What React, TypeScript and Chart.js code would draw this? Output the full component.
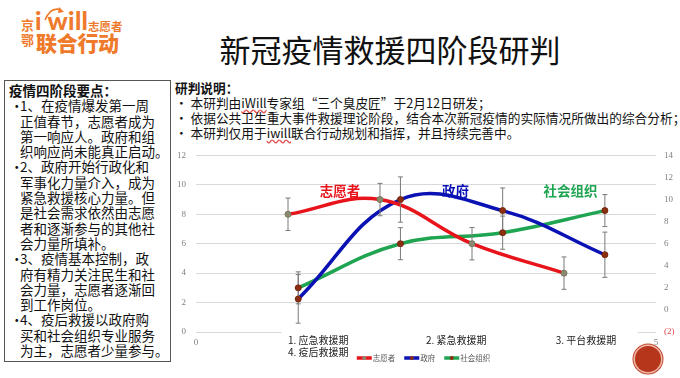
import React, { useEffect, useRef } from 'react';
import { Chart, registerables } from 'chart.js';
Chart.register(...registerables);

// ---- data ----
const stageX = [1, 2, 3, 4];
const seriesNames = ['志愿者', '政府', '社会组织'];
const volunteerValues = [8, 9, 6, 4];
const governmentValues = [1, 10, 9, 5];
const socialOrgValues = [2, 6, 7, 9];
const volunteerErr = [1.1, 1.1, 1.1, 1.1];
const governmentErr = [2.2, 2.05, 2.05, 2.05];
const socialOrgErr = [1.45, 1.45, 1.5, 1.45];
const stageLabels = ['1. 应急救援期', '2. 紧急救援期', '3. 平台救援期', '4. 疫后救援期'];

const pageTitle = '新冠疫情救援四阶段研判';
const boxTitle = '疫情四阶段要点：';
const boxItems = [
  ['1、在疫情爆发第一周', '正值春节，志愿者成为', '第一响应人。政府和组', '织响应尚未能真正启动。'],
  ['2、政府开始行政化和', '军事化力量介入，成为', '紧急救援核心力量。但', '是社会需求依然由志愿', '者和逐渐参与的其他社', '会力量所填补。'],
  ['3、疫情基本控制，政', '府有精力关注民生和社', '会力量，志愿者逐渐回', '到工作岗位。'],
  ['4、疫后救援以政府购', '买和社会组织专业服务', '为主，志愿者少量参与。'],
];
const noteTitle = '研判说明：';

const RED = '#e8141b';
const BLUE = '#0a12b4';
const GREEN = '#1fa552';
const CJK = "'Noto Sans CJK SC', 'Noto Sans', sans-serif";

const overlay = {
  id: 'overlay',
  beforeDatasetsDraw(chart: any) {
    const { ctx, scales } = chart;
    const x = scales.x;
    const y = scales.y;
    const y0 = y.getPixelForValue(0);
    ctx.save();
    ctx.fillStyle = '#ffffff';
    const a = x.getPixelForValue(0.93);
    const b = x.getPixelForValue(4.8);
    ctx.fillRect(a, y0 - 2, b - a, 4);
    ctx.restore();
  },
  afterDatasetsDraw(chart: any) {
    const { ctx, scales, chartArea } = chart;
    const errs = [volunteerErr, governmentErr, socialOrgErr];
    ctx.save();
    // error bars
    chart.data.datasets.forEach((ds: any, i: number) => {
      const meta = chart.getDatasetMeta(i);
      const ys = scales[ds.yAxisID];
      meta.data.forEach((pt: any, j: number) => {
        const v = ds.data[j].y;
        const e = errs[i][j];
        const t = ys.getPixelForValue(v + e);
        const btm = ys.getPixelForValue(v - e);
        ctx.strokeStyle = '#7a7a7a';
        ctx.lineWidth = 1;
        ctx.beginPath();
        ctx.moveTo(pt.x, t);
        ctx.lineTo(pt.x, btm);
        ctx.moveTo(pt.x - 2.5, t);
        ctx.lineTo(pt.x + 2.5, t);
        ctx.moveTo(pt.x - 2.5, btm);
        ctx.lineTo(pt.x + 2.5, btm);
        ctx.stroke();
      });
    });
    // redraw markers on top
    chart.data.datasets.forEach((ds: any, i: number) => {
      const meta = chart.getDatasetMeta(i);
      meta.data.forEach((pt: any) => pt.draw(ctx, chartArea));
    });
    // series labels
    const x = scales.x;
    const y = scales.y;
    const lblPos = [1.565, 2.82, 4.07];
    const lblCol = [RED, BLUE, GREEN];
    ctx.font = `bold 13.5px ${CJK}`;
    ctx.textAlign = 'center';
    ctx.textBaseline = 'middle';
    seriesNames.forEach((n, i) => {
      ctx.fillStyle = lblCol[i];
      ctx.fillText(n, x.getPixelForValue(lblPos[i]), y.getPixelForValue(9.6));
    });
    // stage labels
    const y0 = y.getPixelForValue(0);
    ctx.font = `10px ${CJK}`;
    ctx.fillStyle = '#222222';
    ctx.textAlign = 'left';
    const stX = [1.0, 2.5, 3.91, 1.0];
    const stY = [y0 + 8, y0 + 8, y0 + 8, y0 + 20];
    stageLabels.forEach((s, i) => {
      ctx.fillText(s, x.getPixelForValue(stX[i]), stY[i]);
    });
    // legend
    ctx.font = `7.5px ${CJK}`;
    const items = seriesNames.map((n, i) => ({ n, c: lblCol[i], w: ctx.measureText(n).width }));
    const lineW = 15;
    const gap = 9;
    let total = 0;
    items.forEach((it, i) => { total += lineW + 1 + it.w + (i < items.length - 1 ? gap : 0); });
    let lx = (chartArea.left + chartArea.right) / 2 - 2.5 - total / 2;
    const ly = y0 + 26;
    items.forEach((it, i) => {
      ctx.strokeStyle = it.c;
      ctx.lineWidth = 3.5;
      ctx.beginPath();
      ctx.moveTo(lx, ly);
      ctx.lineTo(lx + lineW, ly);
      ctx.stroke();
      ctx.fillStyle = i === 0 ? '#8c8a6e' : '#8b2e12';
      ctx.beginPath();
      ctx.arc(lx + lineW / 2, ly, 2, 0, Math.PI * 2);
      ctx.fill();
      ctx.fillStyle = '#595959';
      ctx.fillText(it.n, lx + lineW + 1, ly);
      lx += lineW + 1 + it.w + gap;
    });
    ctx.restore();
  },
};

function ChartBox() {
  const ref = useRef<HTMLCanvasElement>(null);
  useEffect(() => {
    const tickFont = { family: "'Liberation Serif', serif", size: 9 };
    const mk = (vals: number[]) => stageX.map((x, i) => ({ x, y: vals[i] }));
    const common = {
      showLine: true,
      tension: 0.4,
      borderWidth: 3.5,
      pointRadius: 3,
      pointBorderWidth: 0.5,
      fill: false,
    };
    const chart = new Chart(ref.current as HTMLCanvasElement, {
      type: 'scatter',
      data: {
        datasets: [
          { ...common, label: seriesNames[0], data: mk(volunteerValues), xAxisID: 'x', yAxisID: 'y', borderColor: RED, backgroundColor: RED, pointBackgroundColor: '#8c8a6e', pointBorderColor: '#6b6a55' },
          { ...common, label: seriesNames[1], data: mk(governmentValues), xAxisID: 'x2', yAxisID: 'y2', borderColor: BLUE, backgroundColor: BLUE, pointBackgroundColor: '#8b2e12', pointBorderColor: '#6a220c' },
          { ...common, label: seriesNames[2], data: mk(socialOrgValues), xAxisID: 'x2', yAxisID: 'y2', borderColor: GREEN, backgroundColor: GREEN, pointBackgroundColor: '#8b2e12', pointBorderColor: '#6a220c' },
        ],
      } as any,
      options: {
        animation: false,
        responsive: false,
        maintainAspectRatio: false,
        layout: { padding: { top: 7, left: 0, right: 0, bottom: 0 } },
        plugins: { legend: { display: false }, tooltip: { enabled: false } },
        scales: {
          x: {
            type: 'linear', position: 'bottom', min: 0, max: 5,
            ticks: { stepSize: 5, padding: 5, font: tickFont, color: '#808080' },
            grid: { display: false, drawTicks: false }, border: { display: false },
            afterFit: (s: any) => { s.height = 46; },
          },
          x2: { type: 'linear', position: 'bottom', min: 0, max: 4.5, display: false },
          y: {
            type: 'linear', position: 'left', min: 0, max: 12,
            ticks: { stepSize: 2, padding: 10, font: tickFont, color: '#808080' },
            grid: { color: '#d9d9d9', drawTicks: false }, border: { display: false },
            afterFit: (s: any) => { s.width = 36; },
          },
          y2: {
            type: 'linear', position: 'right', min: -2, max: 14,
            ticks: {
              stepSize: 2, padding: 8, font: tickFont,
              color: (c: any) => (c.tick && c.tick.value < 0 ? '#e0474c' : '#808080'),
              callback: (v: any) => (v < 0 ? `(${-v})` : `${v}`),
            },
            grid: { display: false, drawTicks: false }, border: { display: false },
            afterFit: (s: any) => { s.width = 24; },
          },
        },
      } as any,
      plugins: [overlay],
    });
    return () => chart.destroy();
  }, []);
  return (
    <canvas ref={ref} width={520} height={238}
      style={{ position: 'absolute', left: 160, top: 140, width: 520, height: 238 }} />
  );
}

export default function App() {
  const orange = '#f07a2c';
  return (
    <div style={{ position: 'fixed', left: 0, top: 0, width: 680, height: 378, background: '#fff', overflow: 'hidden', fontFamily: CJK }}>
      {/* logo */}
      <div style={{ position: 'absolute', left: 21, top: 17, color: orange, fontWeight: 700, fontSize: 13, lineHeight: '15px' }}>
        <div>京</div>
        <div>鄂</div>
      </div>
      <svg width={40} height={20} style={{ position: 'absolute', left: 39, top: 4 }}>
        <path d="M6 16 Q 12 2 22 6" stroke={orange} strokeWidth={1.6} fill="none" />
        <path d="M20 3 L 25 8 L 19 9 Z" fill={orange} />
      </svg>
      <div style={{ position: 'absolute', left: 35, top: 5, color: orange, fontWeight: 900, fontSize: 25, fontFamily: "'Lato', 'Roboto', sans-serif", letterSpacing: 0.3 }}>i will</div>
      <div style={{ position: 'absolute', left: 88, top: 18, color: orange, fontWeight: 700, fontSize: 11.5 }}>志愿者</div>
      <div style={{ position: 'absolute', left: 36, top: 27, color: orange, fontWeight: 900, fontSize: 21, letterSpacing: -0.3 }}>联合行动</div>

      {/* title */}
      <div style={{ position: 'absolute', left: 200, width: 380, top: 26, textAlign: 'center', fontSize: 31, color: '#111', fontWeight: 400, whiteSpace: 'nowrap' }}>{pageTitle}</div>

      {/* left box */}
      <div style={{ position: 'absolute', left: 4, top: 80, width: 167, height: 282, border: '1px solid #555', boxSizing: 'border-box', padding: '2px 0 0 4px', fontSize: 13.5, lineHeight: '15.3px', color: '#111' }}>
        <div style={{ fontWeight: 700 }}>{boxTitle}</div>
        {boxItems.map((lines, i) => (
          <div key={i} style={{ position: 'relative', paddingLeft: 11 }}>
            <span style={{ position: 'absolute', left: 1, top: 0 }}>•</span>
            {lines.map((l, j) => (
              <div key={j} style={{ whiteSpace: 'nowrap' }}>{l}</div>
            ))}
          </div>
        ))}
      </div>

      {/* notes */}
      <div style={{ position: 'absolute', left: 175, top: 80, fontSize: 12.7, lineHeight: '15px', color: '#111', whiteSpace: 'nowrap' }}>
        <div style={{ fontWeight: 700 }}>{noteTitle}</div>
        <div>• 本研判由<span style={{ textDecoration: 'underline wavy #e05050' }}>iWill</span>专家组“三个臭皮匠”于2月12日研发；</div>
        <div>• 依据公共卫生重大事件救援理论阶段，结合本次新冠疫情的实际情况所做出的综合分析；</div>
        <div>• 本研判仅用于<span style={{ textDecoration: 'underline wavy #e05050' }}>iwill</span>联合行动规划和指挥，并且持续完善中。</div>
      </div>

      <ChartBox />

      {/* slide badge */}
      <div style={{ position: 'absolute', left: 635, top: 346, width: 26, height: 26, borderRadius: '50%', background: '#b5361b', boxShadow: '0 0 0 1.5px #f2b7a8, 0 0 0 2.5px #c24a30' }} />
    </div>
  );
}
